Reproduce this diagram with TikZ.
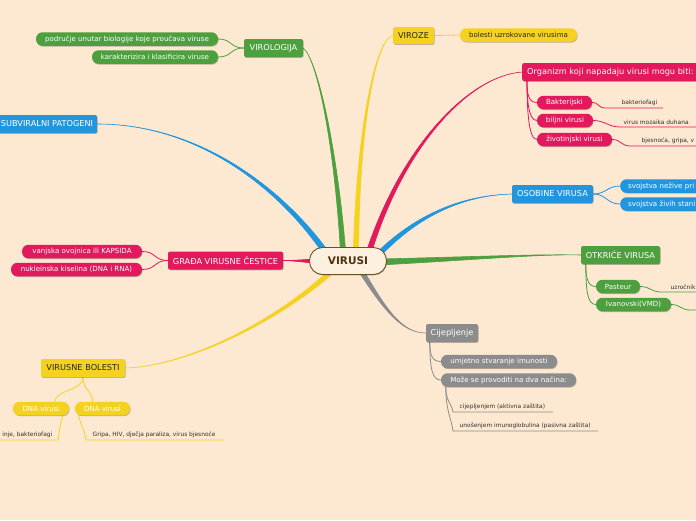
\documentclass[tikz,border=0pt]{standalone}
\usepackage{fontspec}
\setmainfont{DejaVu Sans}
\usetikzlibrary{calc,shadows}
\definecolor{bgc}{RGB}{253,232,210}
\definecolor{mgreen}{RGB}{76,160,62}
\definecolor{mblue}{RGB}{33,150,222}
\definecolor{mpink}{RGB}{226,25,92}
\definecolor{myellow}{RGB}{246,210,32}
\definecolor{mgray}{RGB}{140,140,140}
\definecolor{cfill}{RGB}{253,240,222}
\definecolor{cborder}{RGB}{110,80,40}
\definecolor{ctext}{RGB}{80,50,20}
\definecolor{leaftext}{RGB}{50,50,50}
\pgfdeclarelayer{bglayer}
\pgfsetlayers{bglayer,main}
\newcommand\mmbranch[7]{%
  \filldraw[#1, line width=0.6pt] ($(#2)+(#3,#4)$) .. controls ($(#5)+0.5*(#3,#4)$) and (#6) .. (#7)
    .. controls (#6) and ($(#5)-0.5*(#3,#4)$) .. ($(#2)-(#3,#4)$) -- cycle;}
\tikzset{
  shad/.style={drop shadow={shadow xshift=0.6pt, shadow yshift=-0.9pt, opacity=0.25, fill=black}},
  mbox/.style={shad, rounded corners=2pt, minimum height=18pt, inner xsep=4pt, inner ysep=0pt,
    font=\fontsize{8.2}{9}\selectfont, text=white},
  mpill/.style={shad, rounded corners=6.5pt, minimum height=13.5pt, inner xsep=7pt, inner ysep=0pt,
    font=\fontsize{7.05}{7.5}\selectfont, text=white},
  gbox/.style={mbox, fill=mgreen}, bbox/.style={mbox, fill=mblue},
  pbox/.style={mbox, fill=mpink}, ybox/.style={mbox, fill=myellow, text=black!85},
  gybox/.style={mbox, fill=mgray},
  gpill/.style={mpill, fill=mgreen}, bpill/.style={mpill, fill=mblue},
  ppill/.style={mpill, fill=mpink}, ypill/.style={mpill, fill=myellow, text=black!85},
  gypill/.style={mpill, fill=mgray},
  leaf/.style={inner sep=0.5pt, font=\fontsize{5.9}{6.5}\selectfont, text=leaftext},
  sub/.style={line width=0.8pt},
}
\begin{document}
\begin{tikzpicture}[x=1pt,y=-1pt]
\useasboundingbox (0,0) rectangle (696,520);
\clip (0,0) rectangle (696,520);

% central node
\node[draw=cborder, line width=0.9pt, fill=cfill, rounded corners=13pt, minimum width=77pt,
  minimum height=27pt, inner sep=0pt, font=\fontsize{10.5}{11}\selectfont\bfseries, text=ctext, shad] (vir) at (348,261) {VIRUSI};

% main nodes
\node[gbox, minimum width=59pt] (vl) at (273.5,48) {VIROLOGIJA};
\node[gpill, minimum width=182pt] (p1) at (127,39) {područje unutar biologije koje proučava viruse};
\node[gpill, minimum width=126pt] (p2) at (155,57) {karakterizira i klasificira viruse};

\node[bbox, minimum width=100pt] (sp) at (47,124) {SUBVIRALNI PATOGENI};

\node[ybox, minimum width=41pt, minimum height=17pt] (vz) at (413.5,35.5) {VIROZE};
\node[ypill, minimum width=117pt] (bol) at (518.5,35) {bolesti uzrokovane virusima};

\node[pbox, anchor=west, minimum width=176pt, inner xsep=5pt] (org) at (522,72) {Organizm koji napadaju virusi mogu biti:};
\node[ppill, minimum width=55pt] (bak) at (564.5,102.5) {Bakterijski};
\node[ppill, minimum width=56pt] (bil) at (565,120.5) {biljni virusi};
\node[ppill, minimum width=75pt] (ziv) at (574.5,139.5) {životinjski virusi};

\node[bbox, minimum width=81pt] (os) at (552.5,194) {OSOBINE VIRUSA};
\node[bpill, anchor=west, text width=90pt, align=left, inner xsep=8pt] (s1) at (620,186) {svojstva nežive pri};
\node[bpill, anchor=west, text width=90pt, align=left, inner xsep=8pt] (s2) at (620,204) {svojstva živih stani};

\node[gbox, minimum width=79pt] (ot) at (620.5,255) {OTKRIĆE VIRUSA};
\node[gpill, minimum width=44pt] (pas) at (618,286.5) {Pasteur};
\node[gpill, minimum width=75pt] (iva) at (633.5,304.5) {Ivanovski(VMD)};

\node[pbox, minimum width=115pt] (gr) at (225.5,260.5) {GRAĐA VIRUSNE ČESTICE};
\node[ppill, minimum width=120pt] (kap) at (82,251.5) {vanjska ovojnica ili KAPSIDA};
\node[ppill, minimum width=131pt] (nuk) at (76.5,269.5) {nukleinska kiselina (DNA i RNA)};

\node[ybox, minimum width=84pt] (vb) at (83,368) {VIRUSNE BOLESTI};
\node[ypill, text=white, minimum width=56pt] (d1) at (41,408.5) {DNA virusi};
\node[ypill, text=white, minimum width=55pt] (d2) at (102.5,408.5) {DNA virusi};

\node[gybox, minimum width=52pt] (cij) at (452,333) {Cijepljenje};
\node[gypill, minimum width=116pt] (umj) at (499,361.5) {umjetno stvaranje imunosti};
\node[gypill, minimum width=135pt] (moz) at (508.5,380) {Može se provoditi na dva načina:};

% leaf labels
\node[leaf, anchor=south west] (lbak) at (621,106.5) {bakteriofagi};
\node[leaf, anchor=south west] (lbil) at (623,125.5) {virus mozaika duhana};
\node[leaf, anchor=south west] (lziv) at (641,144.5) {bjesnoća, gripa, v};
\node[leaf, anchor=south west] (lpas) at (670,290.5) {uzročnik};
\node[leaf, anchor=south east] (ld1) at (53,438.5) {inje, bakteriofagi};
\node[leaf, anchor=south west] (ld2) at (92,438.5) {Gripa, HIV, dječja paraliza, virus bjesnoće};
\node[leaf, anchor=south west] (lc1) at (459,410.5) {cijepljenjem (aktivna zaštita)};
\node[leaf, anchor=south west] (lc2) at (459,429.5) {unošenjem imunoglobulina (pasivna zaštita)};

% underline end points
\coordinate (ubak1) at (605,108); \coordinate (ubak2) at (663,108);
\coordinate (ubil1) at (620,127); \coordinate (ubil2) at (700,127);
\coordinate (uziv1) at (630,146); \coordinate (uziv2) at (700,146);
\coordinate (upas1) at (661,292); \coordinate (upas2) at (700,292);
\coordinate (uiva1) at (690,310); \coordinate (uiva2) at (700,310);
\coordinate (ud11) at (58,440); \coordinate (ud12) at (-5,440);
\coordinate (ud21) at (86,440); \coordinate (ud22) at (224,440);
\coordinate (uc11) at (453,412); \coordinate (uc12) at (553,412);
\coordinate (uc21) at (453,431); \coordinate (uc22) at (598,431);

\begin{pgfonlayer}{bglayer}
\fill[bgc] (0,0) rectangle (696,520);
% main tapered branches
\mmbranch{mgreen}{$(vir.center)+(-5,-10)$}{2.6}{0}{336,150}{318,60}{vl.east}
\mmbranch{myellow}{$(vir.center)+(8,-10)$}{2.6}{0}{358,130}{375,40}{vz.west}
\mmbranch{mpink}{$(vir.center)+(21,-9)$}{2.4}{0.9}{402,148}{468,76}{org.west}
\mmbranch{mblue}{$(vir.center)+(30,-6)$}{1.4}{2.2}{422,210}{470,195}{os.west}
\mmbranch{mgreen}{$(vir.center)+(32,1)$}{0}{3}{480,258}{540,254}{ot.west}
\mmbranch{mgray}{$(vir.center)+(12,8)$}{2.2}{-1.2}{385,310}{402,333}{cij.west}
\mmbranch{myellow}{$(vir.center)+(-14,8)$}{2.2}{1.5}{282,318}{190,366}{vb.east}
\mmbranch{mblue}{$(vir.center)+(-22,-8)$}{2}{-2}{282,190}{200,124}{sp.east}
\mmbranch{mpink}{$(vir.center)+(-30,0)$}{0}{2.2}{300,261}{292,260.5}{gr.east}

% sub branches
\draw[mgreen, sub] (vl.west) .. controls +(-14,0) and +(14,0) .. (p1.east);
\draw[mgreen, sub] (vl.west) .. controls +(-14,0) and +(14,0) .. (p2.east);
\draw[myellow, sub] (vz.east) -- (bol.west);
\draw[mpink, sub] ($(org.south west)+(5,0)$) .. controls +(0,14) and +(-8,0) .. (bak.west);
\draw[mpink, sub] ($(org.south west)+(5,0)$) .. controls +(0,20) and +(-8,0) .. (bil.west);
\draw[mpink, sub] ($(org.south west)+(5,0)$) .. controls +(0,30) and +(-8,0) .. (ziv.west);
\draw[mpink, sub] (bak.east) .. controls +(7,0) and +(-7,0) .. (ubak1) -- (ubak2);
\draw[mpink, sub] (bil.east) .. controls +(12,0) and +(-12,0) .. (ubil1) -- (ubil2);
\draw[mpink, sub] (ziv.east) .. controls +(9,0) and +(-9,0) .. (uziv1) -- (uziv2);
\draw[mblue, sub] (os.east) .. controls +(13,0) and +(-13,0) .. (s1.west);
\draw[mblue, sub] (os.east) .. controls +(13,0) and +(-13,0) .. (s2.west);
\draw[mgreen, sub] ($(ot.south west)+(5,0)$) .. controls +(0,14) and +(-8,0) .. (pas.west);
\draw[mgreen, sub] ($(ot.south west)+(5,0)$) .. controls +(0,28) and +(-8,0) .. (iva.west);
\draw[mgreen, sub] (pas.east) .. controls +(10,0) and +(-10,0) .. (upas1) -- (upas2);
\draw[mgreen, sub] (iva.east) .. controls +(9,0) and +(-9,0) .. (uiva1) -- (uiva2);
\draw[mpink, sub] (gr.west) .. controls +(-14,0) and +(14,0) .. (kap.east);
\draw[mpink, sub] (gr.west) .. controls +(-14,0) and +(14,0) .. (nuk.east);
\draw[myellow, sub] (vb.south) .. controls +(0,14) and +(0,-12) .. ($(d1.north)+(14,0)$);
\draw[myellow, sub] (vb.south) .. controls +(0,14) and +(0,-12) .. ($(d2.north)+(-10,0)$);
\draw[myellow, sub] ($(d1.south)+(22,0)$) .. controls +(-4,14) and +(2,-12) .. (ud11) -- (ud12);
\draw[myellow, sub] ($(d2.south)+(-24,0)$) .. controls +(4,14) and +(-2,-12) .. (ud21) -- (ud22);
\draw[mgray, sub] ($(cij.south west)+(4,0)$) .. controls +(0,14) and +(-8,0) .. (umj.west);
\draw[mgray, sub] ($(cij.south west)+(4,0)$) .. controls +(0,28) and +(-8,0) .. (moz.west);
\draw[mgray, sub] ($(moz.south west)+(5,0)$) .. controls +(0,14) and +(-2,-10) .. (uc11) -- (uc12);
\draw[mgray, sub] ($(moz.south west)+(5,0)$) .. controls +(0,24) and +(-2,-14) .. (uc21) -- (uc22);
\end{pgfonlayer}
\end{tikzpicture}
\end{document}
